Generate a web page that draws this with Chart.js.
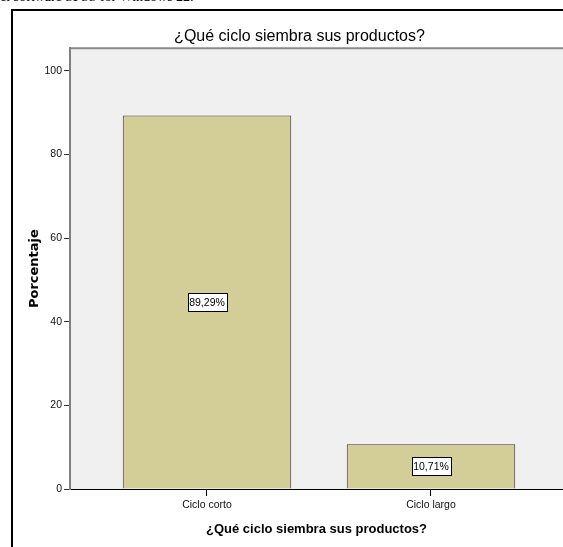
<!DOCTYPE html>
<html><head><meta charset="utf-8">
<script src="https://cdn.jsdelivr.net/npm/chart.js@4.4.1/dist/chart.umd.min.js"></script>
<style>
html,body{margin:0;padding:0;background:#fff;overflow:hidden;width:563px;height:547px;}
#wrap{position:relative;width:563px;height:547px;overflow:hidden;}
#c{position:absolute;left:0;top:0;}
#frame{position:absolute;left:11px;top:9px;width:700px;height:700px;border-left:2px solid #000;border-top:2px solid #000;pointer-events:none;}
#cap{position:absolute;left:0;top:-10px;font:14px 'Liberation Serif',serif;white-space:nowrap;line-height:14px;color:#000;}
</style></head><body>
<div id="wrap"><div id="cap">el software SPSS for Windows 22.</div><canvas id="c" width="563" height="547"></canvas><div id="frame"></div></div>
<script>
const categories = ['Ciclo corto', 'Ciclo largo'];
const percentages = [89.29, 10.71];
const yTicks = [0, 20, 40, 60, 80, 100];
const chartTitle = '¿Qué ciclo siembra sus productos?';
const xTitle = '¿Qué ciclo siembra sus productos?';
const yTitle = 'Porcentaje';

const SANS = "'Liberation Sans', Arial, sans-serif";

const bgPlugin = {
  id: 'bg',
  beforeDraw(chart) {
    const {ctx, chartArea: a} = chart;
    ctx.save();
    ctx.fillStyle = '#F0F0F0';
    ctx.fillRect(a.left, a.top, a.right - a.left, a.bottom - a.top);
    ctx.strokeStyle = '#8a8a8a';
    ctx.lineWidth = 2;
    ctx.beginPath();
    ctx.moveTo(a.left, a.top);
    ctx.lineTo(a.right, a.top);
    ctx.stroke();
    ctx.restore();
  }
};

const labelPlugin = {
  id: 'barLabels',
  afterDatasetsDraw(chart) {
    const {ctx} = chart;
    const meta = chart.getDatasetMeta(0);
    ctx.save();
    ctx.font = "10.5px " + SANS;
    ctx.textAlign = 'center';
    ctx.textBaseline = 'middle';
    meta.data.forEach((el, i) => {
      const txt = percentages[i].toFixed(2).replace('.', ',') + '%';
      const w = Math.round(ctx.measureText(txt).width + 3);
      const h = 18;
      const cx = Math.round(el.x);
      const cy = Math.round((el.y + el.base) / 2);
      const x0 = Math.round(cx - w / 2) + 0.5, y0 = Math.round(cy - h / 2) + 0.5;
      ctx.fillStyle = '#fff';
      ctx.fillRect(x0, y0, w, h);
      ctx.strokeStyle = '#000';
      ctx.lineWidth = 1;
      ctx.strokeRect(x0, y0, w, h);
      ctx.fillStyle = '#000';
      ctx.fillText(txt, cx, cy + 1);
    });
    ctx.restore();
  }
};

new Chart(document.getElementById('c'), {
  type: 'bar',
  data: {
    datasets: [{
      data: categories.map((c, i) => ({x: i, y: percentages[i]})),
      backgroundColor: '#D3CE98',
      borderColor: '#3c3c3c',
      borderWidth: 1,
      categoryPercentage: 1,
      barPercentage: 0.752
    }]
  },
  options: {
    responsive: false,
    animation: false,
    devicePixelRatio: 1,
    layout: {padding: {left: 36, right: 0, top: 0, bottom: 0}},
    plugins: {
      legend: {display: false},
      tooltip: {enabled: false},
      title: {
        display: true,
        text: chartTitle,
        color: '#000',
        font: {family: SANS, size: 16, weight: 'normal'},
        padding: {top: 27, bottom: 2}
      }
    },
    scales: {
      x: {
        type: 'linear',
        offset: false,
        min: -0.6116,
        max: 1.5893,
        afterBuildTicks(scale) { scale.ticks = categories.map((c, i) => ({value: i})); },
        afterFit(scale) { scale.height = 58; },
        ticks: {
          autoSkip: false,
          maxRotation: 0,
          padding: 3,
          color: '#111',
          font: {family: SANS, size: 10.5},
          callback: (v) => categories[Math.round(v)]
        },
        grid: {display: true, offset: false, drawOnChartArea: false, drawTicks: true, tickLength: 7, color: '#000'},
        border: {display: true, color: '#000', width: 1},
        title: {
          display: true,
          text: xTitle,
          color: '#000',
          font: {family: SANS, size: 13, weight: 'bold'},
          padding: {top: 0, bottom: 10}
        }
      },
      y: {
        min: 0,
        max: 105.4,
        afterBuildTicks(scale) { scale.ticks = yTicks.map(v => ({value: v})); },
        afterFit(scale) { scale.width = 34; },
        ticks: {
          padding: 2,
          color: '#111',
          font: {family: SANS, size: 10.5}
        },
        grid: {display: true, drawOnChartArea: false, drawTicks: true, tickLength: 6, color: '#333'},
        border: {display: true, color: '#808080', width: 2},
        title: {
          display: true,
          text: yTitle,
          color: '#000',
          font: {family: "'DejaVu Sans', sans-serif", size: 13, weight: 'bold'},
          padding: {top: -9, bottom: 0}
        }
      }
    }
  },
  plugins: [bgPlugin, labelPlugin]
});
</script>
</body></html>
